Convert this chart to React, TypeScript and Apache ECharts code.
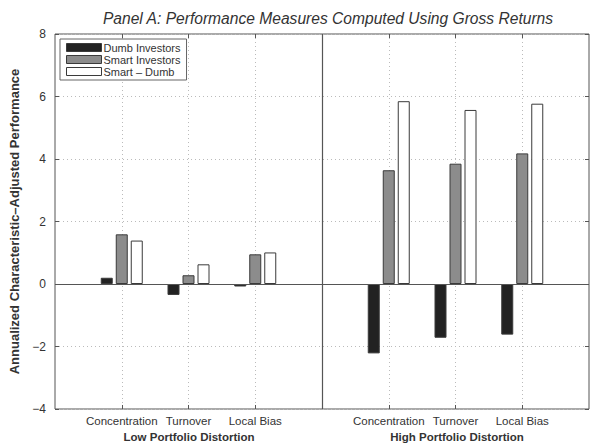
import React, { useEffect, useRef } from "react";
import * as echarts from "echarts";

const categories = ["", "Concentration", "Turnover", "Local Bias", "", "Concentration", "Turnover", "Local Bias", ""];
const dumbInvestors = [null, 0.2, -0.35, -0.08, null, -2.22, -1.72, -1.62, null];
const smartInvestors = [null, 1.59, 0.28, 0.95, null, 3.64, 3.85, 4.18, null];
const smartMinusDumb = [null, 1.39, 0.63, 1.01, null, 5.85, 5.57, 5.77, null];
const yTicks = [-4, -2, 0, 2, 4, 6, 8];
const groupLabels = ["Low Portfolio Distortion", "High Portfolio Distortion"];
const titleText = "Panel A: Performance Measures Computed Using Gross Returns";
const yAxisTitle = "Annualized Characteristic\u2013Adjusted Performance";

const FONT = "Liberation Sans, Arial, Helvetica, sans-serif";
const showIdx = (i: number) => i !== 0 && i !== 4 && i !== 8;

export default function App() {
  const ref = useRef<HTMLDivElement>(null);
  useEffect(() => {
    const chart = echarts.init(ref.current!, null, { renderer: "svg" });
    const barStyle = (c: string) => ({ color: c, borderColor: "#3a3a3a", borderWidth: 1 });
    chart.setOption({
      animation: false,
      backgroundColor: "#fff",
      textStyle: { fontFamily: FONT },
      title: {
        text: titleText,
        left: 323,
        textAlign: "center",
        top: 5,
        textStyle: { fontFamily: FONT, fontSize: 15.6, fontStyle: "italic", fontWeight: "normal", color: "#333" },
      },
      legend: {
        orient: "vertical",
        left: 60,
        top: 39,
        icon: "rect",
        itemWidth: 35,
        itemHeight: 8,
        itemGap: 1,
        padding: [3, 6, 3, 6],
        borderColor: "#666",
        borderWidth: 1,
        backgroundColor: "#fff",
        textStyle: { fontFamily: FONT, fontSize: 11, color: "#333", padding: [0, 0, 0, -3] },
        itemStyle: { borderColor: "#3a3a3a", borderWidth: 1 },
        data: ["Dumb Investors", "Smart Investors", "Smart \u2013 Dumb"],
      },
      grid: {
        left: 55,
        right: 2,
        top: 34,
        bottom: 37,
        show: true,
        borderColor: "#555",
        borderWidth: 1,
      },
      xAxis: [
        {
          type: "category",
          data: categories,
          boundaryGap: false,
          axisLine: { show: false, onZero: false },
          axisTick: { show: true, inside: true, length: 4, interval: (i: number) => showIdx(i), lineStyle: { color: "#555" } },
          axisLabel: { interval: 0, color: "#333", fontSize: 11.5, fontFamily: FONT, margin: 6 },
          splitLine: { show: true, interval: (i: number) => showIdx(i), lineStyle: { color: "#bbb", type: [1, 3] } },
        },
        {
          type: "category",
          data: categories,
          boundaryGap: false,
          position: "top",
          axisLine: { show: false, onZero: false },
          axisTick: { show: true, inside: true, length: 4, interval: (i: number) => showIdx(i), lineStyle: { color: "#555" } },
          axisLabel: { show: false },
          splitLine: { show: false },
        },
      ],
      yAxis: [
        {
          type: "value",
          min: -4,
          max: 8,
          interval: 2,
          name: yAxisTitle,
          nameLocation: "middle",
          nameGap: 30,
          nameTextStyle: { fontFamily: FONT, fontSize: 13, fontWeight: "bold", color: "#333" },
          axisLine: { show: false },
          axisTick: { show: true, inside: true, length: 4, lineStyle: { color: "#555" } },
          axisLabel: {
            color: "#333",
            fontSize: 12,
            fontFamily: FONT,
            margin: 9,
            formatter: (v: number) => (yTicks.includes(v) ? String(v).replace("-", "\u2212") : ""),
          },
          splitLine: { show: true, lineStyle: { color: "#bbb", type: [1, 3] } },
        },
        {
          type: "value",
          min: -4,
          max: 8,
          interval: 2,
          position: "right",
          axisLine: { show: false },
          axisTick: { show: true, inside: true, length: 4, lineStyle: { color: "#555" } },
          axisLabel: { show: false },
          splitLine: { show: false },
        },
      ],
      series: [
        {
          name: "Dumb Investors",
          type: "bar",
          data: dumbInvestors,
          barWidth: 12,
          barGap: "25%",
          itemStyle: barStyle("#222"),
        },
        {
          name: "Smart Investors",
          type: "bar",
          data: smartInvestors,
          barWidth: 12,
          barGap: "25%",
          itemStyle: barStyle("#8c8c8c"),
          z: 3,
          markLine: {
            symbol: "none",
            silent: true,
            label: { show: false },
            lineStyle: { color: "#555", width: 1.2, type: "solid" },
            data: [{ yAxis: 0 }, { xAxis: 4 }],
          },
        },
        {
          name: "Smart \u2013 Dumb",
          type: "bar",
          data: smartMinusDumb,
          barWidth: 12,
          barGap: "25%",
          itemStyle: barStyle("#ffffff"),
        },
      ],
      graphic: [
        {
          type: "text",
          x: 189,
          y: 437,
          style: { text: groupLabels[0], fontFamily: FONT, fontSize: 11.5, fontWeight: "bold", fill: "#333", textAlign: "center", textVerticalAlign: "middle" },
        },
        {
          type: "text",
          x: 457,
          y: 437,
          style: { text: groupLabels[1], fontFamily: FONT, fontSize: 11.5, fontWeight: "bold", fill: "#333", textAlign: "center", textVerticalAlign: "middle" },
        },
      ],
    });
    return () => chart.dispose();
  }, []);
  return <div ref={ref} style={{ width: 592, height: 446, position: "absolute", left: 0, top: 0 }} />;
}
